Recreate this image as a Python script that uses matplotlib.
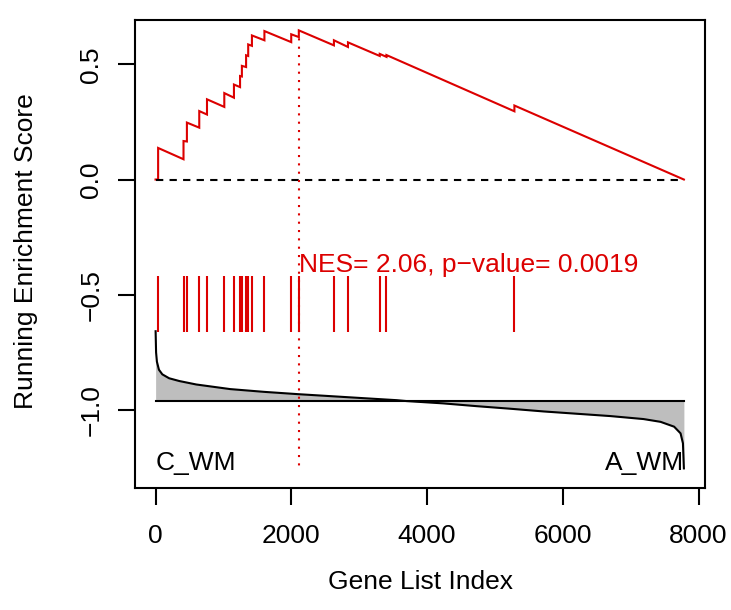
import numpy as np
import matplotlib
matplotlib.use("Agg")
import matplotlib.pyplot as plt

plt.rcParams['font.family'] = ['Liberation Sans', 'DejaVu Sans']
plt.rcParams['axes.unicode_minus'] = True

# === data ===
n_genes = 7784

# hit positions in the ranked list, ES just before and just after each hit
hit_pos = [38, 412, 462, 644, 758, 1013, 1155, 1245, 1272, 1334, 1365, 1420,
           1604, 1999, 2111, 2628, 2835, 3303, 3402, 5287]
es_before = [0.000, 0.088, 0.165, 0.225, 0.282, 0.315, 0.355, 0.401, 0.447,
             0.488, 0.536, 0.580, 0.604, 0.596, 0.618, 0.582, 0.575, 0.536,
             0.532, 0.296]
es_after = [0.137, 0.167, 0.247, 0.297, 0.348, 0.375, 0.412, 0.449, 0.493,
            0.539, 0.586, 0.625, 0.644, 0.630, 0.647, 0.604, 0.595, 0.545,
            0.540, 0.321]

# ranked list metric, drawn in ES units under the hits
rank_idx = [1, 8, 20, 50, 100, 200, 350, 600, 1100, 1600, 2100, 2600, 3100,
            3550, 3700, 4240, 4730, 5220, 5720, 6210, 6700, 7190, 7440, 7640,
            7735, 7770, 7784]
rank_val = [-0.658, -0.750, -0.790, -0.825, -0.845, -0.862, -0.874, -0.889,
            -0.909, -0.921, -0.931, -0.940, -0.949, -0.957, -0.961, -0.971,
            -0.983, -0.994, -1.006, -1.016, -1.026, -1.039, -1.051, -1.072,
            -1.101, -1.144, -1.253]
rank_base = -0.961

nes = 2.06
pval = 0.0019
left_label = "C_WM"
right_label = "A_WM"

red = '#DC0000'
fs = 19

# === build ES path ===
xs = [0]
ys = [0.0]
for p, b, a in zip(hit_pos, es_before, es_after):
    xs += [p, p]
    ys += [b, a]
xs.append(n_genes)
ys.append(0.0)

i_max = int(np.argmax(es_after))
x_max = hit_pos[i_max]
es_max = es_after[i_max]

# === plot ===
W, H = 731, 610
fig = plt.figure(figsize=(W / 100, H / 100), dpi=100)
ax = fig.add_axes([134.5 / W, 1 - 488 / H, (705 - 134.5) / W, (488 - 20) / H])

ax.plot(xs, ys, color=red, lw=1.5, solid_joinstyle='miter')
ax.plot([1, n_genes], [0, 0], color='black', lw=1.5, ls=(0, (3.5, 3)))

# hits
ax.vlines(hit_pos, -0.661, -0.419, color=red, lw=1.5)

# ranked list
ax.fill_between(rank_idx, rank_val, rank_base, color='#BEBEBE', lw=0)
ax.plot(rank_idx, rank_val, color='black', lw=1.5)
ax.plot([1, n_genes], [rank_base, rank_base], color='black', lw=1.5)

# max ES marker line
ax.plot([x_max, x_max], [es_max, min(rank_val)], color=red, lw=1.5, ls=(0, (1, 3)))

ax.text(x_max, -0.40, f"NES= {nes:.2f}, p\u2212value= {pval}", color=red,
        fontsize=fs, ha='left', va='baseline')
ax.text(1, -1.26, left_label, fontsize=fs, ha='left', va='baseline')
ax.text(n_genes, -1.26, right_label, fontsize=fs, ha='right', va='baseline')

ax.set_xlim(-310, 8095)
ax.set_ylim(-1.338, 0.692)
ax.set_xticks([0, 2000, 4000, 6000, 8000])
ax.set_yticks([-1.0, -0.5, 0.0, 0.5])
ax.set_yticklabels(['\u22121.0', '\u22120.5', '0.0', '0.5'], rotation=90,
                   va='center', ha='center')
ax.tick_params(direction='out', length=12, width=1.5, labelsize=fs)
ax.tick_params(axis='y', pad=19)
ax.tick_params(axis='x', pad=14)
for s in ax.spines.values():
    s.set_linewidth(1.5)

fig.text(26 / W, 1 - 251 / H, "Running Enrichment Score", rotation=90,
         fontsize=fs, ha='center', va='center')
fig.text(420 / W, 1 - 582 / H, "Gene List Index", fontsize=fs,
         ha='center', va='center')

fig.savefig('out.png', dpi=100)
